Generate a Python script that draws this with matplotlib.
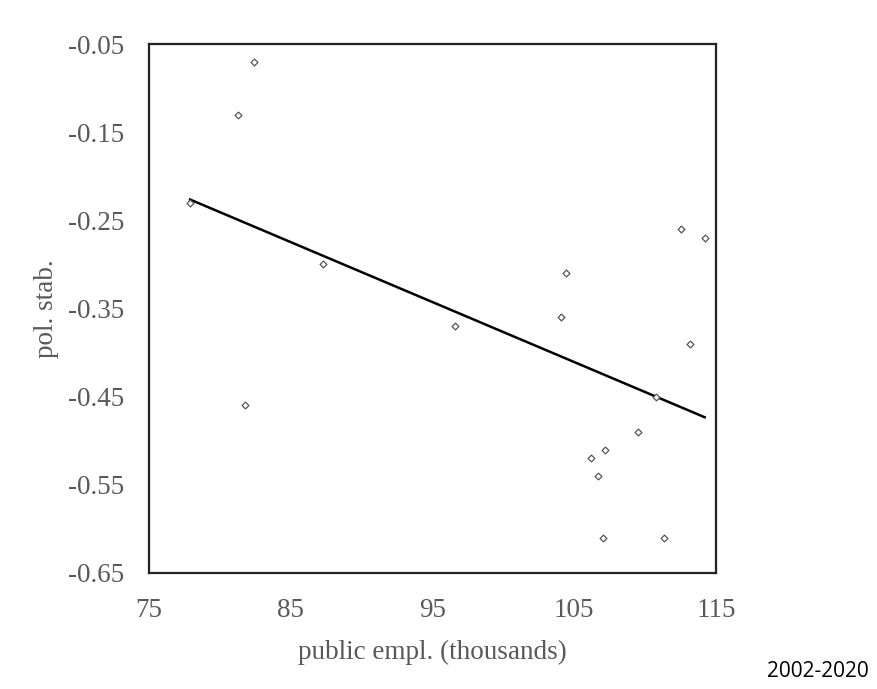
import numpy as np
import matplotlib
matplotlib.use('Agg')
import matplotlib.pyplot as plt

# public employment (thousands) vs political stability, 2002-2020
public_empl = [77.9, 81.3, 82.4, 81.8, 87.3, 96.6, 104.45, 104.1, 112.55,
               114.2, 113.2, 110.8, 109.5, 107.2, 106.2, 106.7, 107.0, 111.3]
pol_stab = [-0.23, -0.13, -0.07, -0.46, -0.30, -0.37, -0.31, -0.36, -0.26,
            -0.27, -0.39, -0.45, -0.49, -0.51, -0.52, -0.54, -0.61, -0.61]
x_ticks = [75, 85, 95, 105, 115]
y_ticks = [-0.65, -0.55, -0.45, -0.35, -0.25, -0.15, -0.05]
period = '2002-2020'

plt.rcParams['font.family'] = ['Liberation Serif', 'DejaVu Serif']

fig = plt.figure(figsize=(8.78, 6.89), dpi=100)
ax = fig.add_axes([0.1697, 0.1684, 0.6458, 0.7677])

ax.scatter(public_empl, pol_stab, marker='D', s=12, facecolors='white',
           edgecolors='#555555', linewidths=0.9, zorder=3)

# linear trend line
k, b = np.polyfit(public_empl, pol_stab, 1)
xs = np.array([min(public_empl), max(public_empl)])
ax.plot(xs, k * xs + b, color='black', linewidth=1.8, zorder=2)

ax.set_xlim(75, 115)
ax.set_ylim(-0.65, -0.05)
ax.set_xticks(x_ticks)
ax.set_yticks(y_ticks)
ax.set_xticklabels([str(v) for v in x_ticks])
ax.set_yticklabels(['%.2f' % v for v in y_ticks])
ax.tick_params(length=0, labelsize=19.5, labelcolor='#595959')
ax.tick_params(axis='x', pad=18)
ax.tick_params(axis='y', pad=18)

for s in ax.spines.values():
    s.set_linewidth(1.6)
    s.set_color('#222222')

ax.set_xlabel('public empl. (thousands)', fontsize=19.5, color='#595959', labelpad=12)
ax.set_ylabel('pol. stab.', fontsize=19.5, color='#595959', labelpad=6)

fig.text(0.931, 0.025, period, fontsize=15, family=['Open Sans', 'DejaVu Sans'],
         ha='center', va='center', color='black')

fig.savefig('out.png', dpi=100, facecolor='white')
